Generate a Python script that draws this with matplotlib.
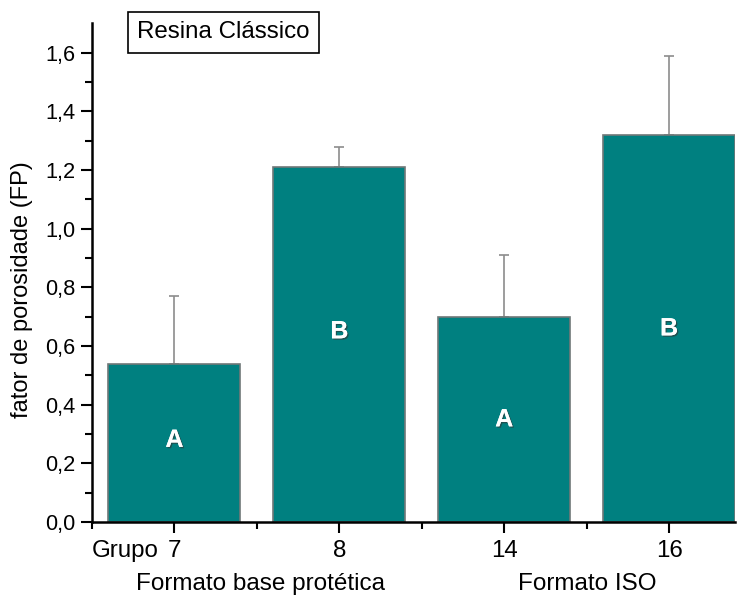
import matplotlib.pyplot as plt
from matplotlib.ticker import FixedLocator, FuncFormatter
import matplotlib.patheffects as pe
import numpy as np

groups = ["7", "8", "14", "16"]
group_prefix = "Grupo"
means = [0.54, 1.21, 0.70, 1.32]
upper_err = [0.23, 0.07, 0.21, 0.27]
letters = ["A", "B", "A", "B"]
letter_y = [0.28, 0.65, 0.35, 0.66]

plt.rcParams['font.family'] = ['Liberation Sans', 'DejaVu Sans']

fig = plt.figure(figsize=(7.45, 6.02), dpi=100)
ax = fig.add_axes([92 / 745, 80 / 602, (735 - 92) / 745, (521.7 - 23) / 602])

x = np.arange(1, len(groups) + 1)
ax.bar(x, means, width=0.8, color="#008080", edgecolor="#707878", linewidth=1.2, zorder=2)
ax.errorbar(x, means, yerr=[np.zeros(len(means)), upper_err], fmt="none",
            ecolor="#8c8c8c", elinewidth=1.2, capsize=3.7, capthick=1.2, zorder=1)

for xi, lab, ly in zip(x, letters, letter_y):
    ax.text(xi, ly, lab, ha="center", va="center", color="white", fontsize=18,
            fontweight="bold", zorder=3,
            path_effects=[pe.withSimplePatchShadow(offset=(1, -1), shadow_rgbFace="#333333", alpha=0.6),
                          pe.Normal()])

ax.set_xlim(0.5, 4.4)
ax.set_ylim(0, 1.7)
ax.set_xticks(x)
ax.set_xticklabels(groups, fontsize=17.4)
ax.xaxis.set_minor_locator(FixedLocator([0.5, 1.5, 2.5, 3.5]))
ax.yaxis.set_major_locator(FixedLocator([0, 0.2, 0.4, 0.6, 0.8, 1.0, 1.2, 1.4, 1.6]))
ax.yaxis.set_minor_locator(FixedLocator(np.arange(0.1, 1.7, 0.2)))
ax.yaxis.set_major_formatter(FuncFormatter(lambda v, p: f"{v:.1f}".replace(".", ",")))
ax.tick_params(axis="y", labelsize=15.7, pad=4)
ax.tick_params(which="major", direction="out", length=8, width=1.5)
ax.tick_params(which="minor", direction="out", length=5, width=1.5)
ax.tick_params(axis="x", pad=5)

# "Grupo" sits just left of the first tick label
ax.annotate(group_prefix, xy=(x[0], 0), xycoords=ax.get_xaxis_transform(),
            xytext=(-11.5, -13), textcoords="offset points",
            ha="right", va="top", fontsize=17.4, annotation_clip=False)

for side in ["top", "right"]:
    ax.spines[side].set_visible(False)
for side in ["left", "bottom"]:
    ax.spines[side].set_linewidth(1.8)

ax.set_ylabel("fator de porosidade (FP)", fontsize=17)
ax.yaxis.set_label_coords(-(92 - 33) / 643, 0.465)

fig.text(260 / 745, 1 - 584 / 602, "Formato base protética", fontsize=17.5, ha="center", va="center")
fig.text(587 / 745, 1 - 584 / 602, "Formato ISO", fontsize=17.5, ha="center", va="center")

fig.text(223.5 / 745, 1 - 32.5 / 602, "Resina Clássico", fontsize=17.4, ha="center", va="center",
         bbox=dict(facecolor="white", edgecolor="black", linewidth=1.2, boxstyle="square,pad=0.4"))

fig.savefig("out.png", dpi=100)
